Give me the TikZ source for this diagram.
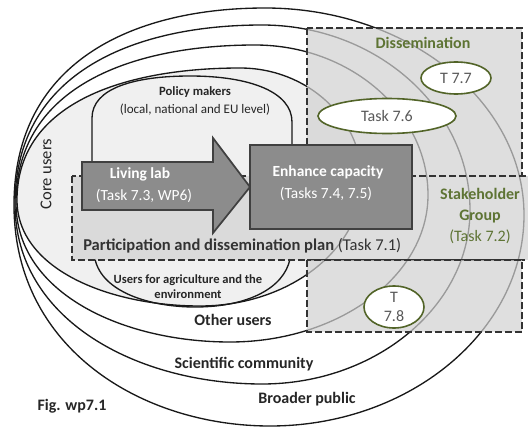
\documentclass[tikz,border=0pt]{standalone}
\usepackage{fontspec}
\setmainfont{Carlito}
% egg-shaped ring through left, top, right and bottom points
\newcommand\eggshape[9]{%
  \draw[#1] (#2,#3)
    .. controls (#2,{#3+0.75*(#5-#3)}) and ({#4+0.5*(#2-#4)},#5) .. (#4,#5)
    .. controls ({#4+0.55*(#6-#4)},#5) and (#6,{#7+0.55*(#5-#7)}) .. (#6,#7)
    .. controls (#6,{#7+0.55*(#9-#7)}) and ({#8+0.55*(#6-#8)},#9) .. (#8,#9)
    .. controls ({#8+0.5*(#2-#8)},#9) and (#2,{#3+0.65*(#9-#3)}) .. (#2,#3) -- cycle;}
\begin{document}
\begin{tikzpicture}[x=0.75pt,y=-0.75pt]
\definecolor{olivetext}{RGB}{94,116,52}
\definecolor{oliveline}{RGB}{82,100,40}
\definecolor{corefill}{RGB}{240,240,240}
\definecolor{boxgray}{RGB}{140,140,140}
\tikzset{
  ring/.style={draw=black!90, line width=1pt},
  zone/.style={draw=black!80, dash pattern=on 5pt off 2.5pt, line width=1.1pt,
               fill=black!18, fill opacity=0.7},
  graybox/.style={draw=black!75, line width=1.3pt, fill=boxgray},
  taskring/.style={draw=oliveline, line width=1.2pt, fill=white},
  ringlabel/.style={font=\fontsize{12}{14}\selectfont\bfseries, text=black!85},
  whitelabel/.style={font=\fontsize{11.6}{15.5}\selectfont, text=white, align=center},
  olivelabel/.style={font=\fontsize{12}{15.4}\selectfont, text=olivetext, align=center},
  tasklabel/.style={font=\fontsize{12}{14}\selectfont, text=black!65, align=center}
}
\useasboundingbox (0,0) rectangle (528,428);
\clip (0,0) rectangle (528,428);

% nested audience rings, outermost first
\eggshape{ring, fill=white}{14}{205}{265}{8}{524}{215}{270}{426}
\eggshape{ring, fill=white}{15}{204}{262}{25}{470}{210}{262}{384}
\eggshape{ring, fill=white}{16}{203}{255}{45}{428}{195}{230}{342}
\eggshape{ring, fill=corefill}{17}{200}{240}{68}{362}{180}{200}{306}

% policy makers arch and agriculture bowl
\draw[ring] (92,162) -- (92,118) .. controls (92,88) and (135,76) .. (190,76)
  .. controls (250,76) and (292,92) .. (292,122) -- (292,145);
\draw[ring] (95,259) .. controls (102,292) and (150,307) .. (195,307)
  .. controls (248,307) and (284,288) .. (290,259);

% participation plan band, dissemination and lower zones
\draw[zone] (72,176) rectangle (540,260);
\draw[zone] (307,28) rectangle (522,176);
\draw[zone] (307,260) rectangle (522,332);

% living lab arrow and capacity box
\draw[graybox] (82,162) -- (213,162) -- (213,138) -- (250,187) -- (213,233)
  -- (213,210) -- (82,210) -- cycle;
\draw[graybox] (250,145) rectangle (412,229);

% task ellipses
\draw[taskring] (387,116) ellipse [x radius=69, y radius=17.5];
\draw[taskring] (456,78) ellipse [x radius=35, y radius=16];
\draw[taskring] (394,307) ellipse [x radius=30, y radius=21];

% labels
\node[font=\fontsize{9.5}{11}\selectfont\bfseries, text=black!85] (policy) at (195,92) {Policy makers};
\node[font=\fontsize{9.8}{11}\selectfont, text=black!85] (policysub) at (195,110) {(local, national and EU level)};
\node[font=\fontsize{12.4}{14}\selectfont, text=black!85, rotate=90] (core) at (46,174) {Core users};
\node[whitelabel, font=\fontsize{11.6}{15.5}\selectfont\bfseries] (lab) at (140,174) {Living lab};
\node[whitelabel] (labsub) at (144,196) {(Task 7.3, WP6)};
\node[whitelabel, font=\fontsize{11.6}{15.5}\selectfont\bfseries] (capacity) at (328,172) {Enhance capacity};
\node[whitelabel] (capacitysub) at (326,194) {(Tasks 7.4, 7.5)};
\node[anchor=west, font=\fontsize{12.4}{14}\selectfont, text=black!80, inner sep=0pt] (plan) at (83,246)
  {\bfseries Participation and dissemination plan \mdseries(Task 7.1)};
\node[olivelabel] (stake) at (480,216) {\bfseries Stakeholder\\ \bfseries Group\\ (Task 7.2)};
\node[olivelabel, font=\fontsize{12}{14}\selectfont\bfseries] (diss) at (423,43) {Dissemination};
\node[tasklabel] (t76) at (387,116) {Task 7.6};
\node[tasklabel] (t77) at (456,78) {T 7.7};
\node[tasklabel, font=\fontsize{12}{14.5}\selectfont] (t78) at (394,307) {T\\7.8};
\node[font=\fontsize{9.4}{11.3}\selectfont\bfseries, text=black!85, align=center] (agri) at (188,287)
  {Users for agriculture and the\\environment};
\node[ringlabel] (other) at (233,320) {Other users};
\node[ringlabel] (science) at (244,364) {Scientific community};
\node[ringlabel] (public) at (307,399) {Broader public};
\node[ringlabel] (fig) at (72,406) {Fig. wp7.1};
\end{tikzpicture}
\end{document}
